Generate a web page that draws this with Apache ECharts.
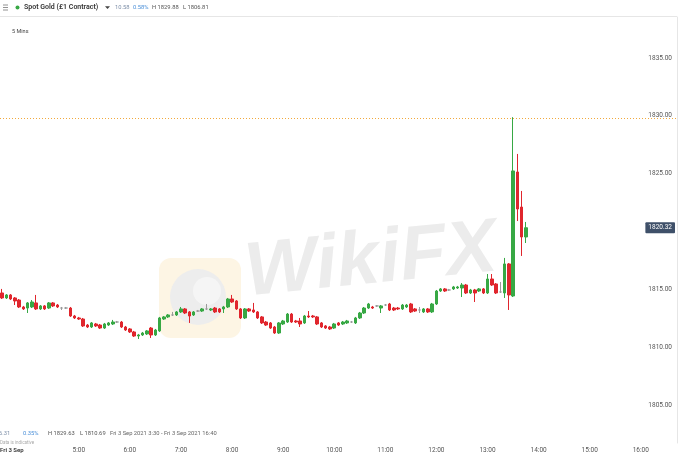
<!DOCTYPE html>
<html><head><meta charset="utf-8">
<script src="https://cdn.jsdelivr.net/npm/echarts@6/dist/echarts.min.js"></script>
<style>html,body{margin:0;padding:0;background:#fff}#c{width:679px;height:454px}</style>
</head><body><div id="c"></div>
<script>
// 5-minute candles, Spot Gold, Fri 3 Sep 2021, starting 3:30
const openP = [1814.68,1814.25,1814.51,1814.25,1814.07,1813.47,1813.38,1813.47,1813.82,1813.30,
1813.56,1813.38,1813.82,1813.64,1813.38,1813.38,1813.38,1812.69,1812.52,1812.43,
1811.91,1811.74,1812.00,1811.91,1811.65,1811.91,1812.00,1812.17,1812.17,1811.74,
1811.57,1811.31,1810.96,1811.05,1811.14,1811.65,1811.05,1811.40,1812.43,1812.61,
1812.78,1812.78,1813.04,1813.30,1813.04,1812.78,1813.12,1813.12,1813.30,1813.21,
1813.38,1813.30,1813.30,1813.47,1814.16,1813.99,1813.30,1812.52,1813.30,1813.21,
1813.04,1812.61,1812.17,1812.09,1811.74,1811.22,1812.00,1812.17,1812.86,1812.26,
1812.26,1812.09,1812.69,1812.69,1812.61,1812.09,1811.83,1811.74,1811.65,1812.09,
1812.00,1812.09,1812.17,1812.09,1812.52,1812.95,1813.38,1813.47,1813.56,1813.38,
1813.64,1813.73,1813.38,1813.38,1813.30,1813.47,1813.73,1813.30,1813.21,1813.04,
1813.30,1813.04,1813.73,1814.85,1815.03,1814.94,1815.03,1815.11,1815.11,1815.37,
1814.68,1814.94,1814.85,1815.03,1814.68,1815.89,1815.46,1814.77,1814.68,1817.19,
1814.42,1825.14,1822.11,1819.52];
const closeP = [1814.25,1814.51,1814.16,1813.99,1813.47,1813.30,1813.82,1813.90,1813.30,1813.56,
1813.30,1813.82,1813.56,1813.47,1813.38,1813.38,1812.69,1812.52,1812.43,1811.83,
1811.74,1812.09,1811.83,1811.65,1812.00,1812.09,1812.17,1812.17,1811.74,1811.48,
1811.31,1810.96,1811.05,1811.22,1811.40,1811.05,1811.48,1812.52,1812.61,1812.78,
1812.78,1813.04,1813.30,1812.95,1812.69,1813.04,1813.12,1813.30,1813.30,1813.30,
1813.04,1813.04,1813.47,1814.16,1813.90,1813.30,1812.52,1813.30,1813.12,1813.04,
1812.52,1812.09,1811.91,1811.65,1811.22,1812.09,1812.26,1812.86,1812.17,1812.17,
1812.00,1812.69,1812.61,1812.61,1812.00,1811.74,1811.65,1811.57,1812.00,1811.91,
1812.17,1812.26,1812.17,1812.52,1812.95,1813.38,1813.73,1813.38,1813.56,1813.56,
1813.64,1813.21,1813.21,1813.30,1813.64,1813.64,1813.04,1813.12,1813.21,1813.30,
1813.04,1813.73,1814.85,1815.03,1814.85,1814.94,1815.20,1815.20,1815.37,1814.68,
1814.94,1814.68,1815.03,1814.68,1815.89,1815.37,1814.68,1814.77,1817.19,1814.51,
1825.23,1821.94,1819.52,1820.32];
const lowP = [1814.16,1814.16,1814.07,1813.64,1813.38,1813.21,1812.95,1813.38,1813.21,1813.21,
1813.21,1813.30,1813.47,1813.38,1813.21,1813.30,1812.61,1812.43,1812.35,1811.74,
1811.65,1811.65,1811.74,1811.57,1811.57,1811.83,1811.91,1812.09,1811.65,1811.40,
1811.22,1810.88,1810.70,1810.96,1811.05,1810.79,1810.96,1811.31,1812.35,1812.52,
1812.69,1812.69,1812.95,1812.86,1812.09,1812.69,1813.04,1813.04,1813.21,1813.12,
1812.95,1812.95,1812.95,1813.38,1813.82,1813.21,1812.43,1812.43,1813.04,1812.95,
1812.43,1812.00,1811.83,1811.57,1811.14,1811.14,1811.91,1812.09,1812.09,1812.09,
1811.74,1812.00,1812.52,1812.52,1811.91,1811.65,1811.57,1811.48,1811.57,1811.83,
1811.91,1812.00,1812.09,1812.00,1812.43,1812.86,1813.30,1813.30,1813.47,1812.95,
1813.56,1813.12,1813.12,1813.21,1813.21,1813.38,1812.95,1813.04,1812.95,1812.95,
1812.95,1812.95,1813.64,1814.77,1814.77,1814.85,1814.94,1815.03,1814.33,1814.59,
1814.59,1813.90,1814.77,1814.59,1814.59,1815.29,1814.59,1814.68,1814.25,1813.21,
1814.33,1820.90,1817.88,1819.00];
const highP = [1815.03,1814.59,1814.59,1814.33,1814.16,1813.56,1813.90,1814.07,1814.51,1813.64,
1813.64,1813.90,1813.90,1813.73,1813.47,1813.47,1813.47,1812.78,1812.61,1812.52,
1812.00,1812.17,1812.09,1812.00,1812.09,1812.17,1812.35,1812.26,1812.26,1811.83,
1811.65,1811.40,1811.14,1811.31,1811.48,1811.74,1811.57,1812.61,1812.69,1812.86,
1813.04,1813.12,1813.47,1813.38,1813.12,1813.12,1813.21,1813.38,1813.73,1813.38,
1813.47,1813.38,1813.56,1814.25,1814.51,1814.07,1813.38,1813.38,1813.38,1813.82,
1813.12,1812.69,1812.26,1812.17,1811.83,1812.17,1812.35,1812.95,1812.95,1812.35,
1812.52,1812.78,1813.12,1812.78,1812.69,1812.17,1811.91,1811.83,1812.09,1812.17,
1812.26,1812.35,1812.26,1812.61,1813.04,1813.47,1813.82,1813.56,1813.64,1813.64,
1813.73,1813.82,1813.47,1813.47,1813.73,1813.73,1813.82,1813.38,1813.47,1813.38,
1813.38,1813.82,1814.94,1815.11,1815.11,1815.03,1815.29,1815.29,1815.54,1815.46,
1815.03,1815.03,1815.11,1815.11,1816.32,1816.32,1815.54,1815.63,1817.71,1817.27,
1829.88,1826.70,1823.50,1820.82];
const yTicks = [1805, 1810, 1815, 1820, 1825, 1830, 1835];
const lastPrice = 1820.32;
const alertLevel = 1829.8;
const yMin = 1801.71, yMax = 1838.54;
// time axis 3:30 .. 16:40 in 5-minute steps
const categories = [];
for (let m = 3 * 60 + 30; m <= 16 * 60 + 40; m += 5) {
  categories.push(Math.floor(m / 60) + ':' + String(m % 60).padStart(2, '0'));
}
const candles = openP.map((o, i) => [o, closeP[i], lowP[i], highP[i]]);

const GREEN = '#37a844', RED = '#e0262d';
const FONT = 'Roboto, "Open Sans", Arial, sans-serif';
const chart = echarts.init(document.getElementById('c'), null, {renderer: 'canvas'});
chart.setOption({
  animation: false,
  backgroundColor: '#ffffff',
  grid: {left: 0, right: 2, top: 17, bottom: 11},
  xAxis: {
    type: 'category', data: categories, boundaryGap: true,
    axisLine: {show: false}, axisTick: {show: false}, splitLine: {show: false},
    axisLabel: {
      interval: (idx, val) => /:00$/.test(val),
      showMinLabel: false,
      fontSize: 6.5, color: '#555', margin: 4, fontFamily: FONT
    }
  },
  yAxis: {
    type: 'value', position: 'right', min: yMin, max: yMax, scale: true,
    axisLine: {show: true, lineStyle: {color: '#e6e6e6', width: 1}},
    axisTick: {show: false}, splitLine: {show: false},
    axisLabel: {
      inside: true, margin: 5, fontSize: 6.5, color: '#555', fontFamily: FONT,
      customValues: yTicks,
      formatter: v => Number(v).toFixed(2)
    }
  },
  series: [{
    type: 'candlestick', data: candles, barWidth: 3,
    itemStyle: {color: GREEN, color0: RED, borderColor: GREEN, borderColor0: RED,
      borderColorDoji: '#9a9a9a', borderWidth: 1},
    markLine: {
      silent: true, symbol: 'none', animation: false,
      label: {show: false},
      lineStyle: {color: '#f2a93b', type: [1, 2], width: 1},
      data: [{yAxis: alertLevel}]
    },
    z: 5
  }]
});

const py = chart.convertToPixel({yAxisIndex: 0}, lastPrice);
const txt = (x, y, text, size, fill, extra) => Object.assign({
  type: 'text', x: x, y: y, silent: true,
  style: Object.assign({text: text, fontSize: size, fill: fill, fontFamily: FONT, verticalAlign: 'middle'}, extra || {})
});
chart.setOption({
  graphic: {elements: [
    // watermark
    {type: 'rect', shape: {x: 159, y: 258, width: 82, height: 80, r: 12}, style: {fill: '#fdf5e4'}, z: 0, silent: true},
    {type: 'circle', shape: {cx: 198, cy: 297, r: 28}, style: {fill: '#ededed'}, z: 0, silent: true},
    {type: 'circle', shape: {cx: 207, cy: 291, r: 14}, style: {fill: '#f5f5f5'}, z: 0, silent: true},
    {type: 'text', x: 371, y: 262, rotation: 0.1, z: 0, silent: true,
      style: {text: 'WikiFX', font: 'italic bold 76px Arial, "Liberation Sans", sans-serif', fill: '#ececec', align: 'center', verticalAlign: 'middle'}},
    // header
    {type: 'line', shape: {x1: 0, y1: 16.5, x2: 677, y2: 16.5}, style: {stroke: '#e6e6e6', lineWidth: 1}, silent: true},
    {type: 'line', shape: {x1: 3, y1: 5, x2: 8, y2: 5}, style: {stroke: '#777', lineWidth: 0.8}, silent: true},
    {type: 'line', shape: {x1: 3, y1: 7.5, x2: 8, y2: 7.5}, style: {stroke: '#777', lineWidth: 0.8}, silent: true},
    {type: 'line', shape: {x1: 3, y1: 10, x2: 8, y2: 10}, style: {stroke: '#777', lineWidth: 0.8}, silent: true},
    {type: 'circle', shape: {cx: 17.5, cy: 7.5, r: 2}, style: {fill: GREEN}, silent: true},
    txt(24, 7.5, 'Spot Gold (£1 Contract)', 7, '#333', {fontWeight: 600}),
    {type: 'polygon', shape: {points: [[105, 6.3], [110, 6.3], [107.5, 9]]}, style: {fill: '#444'}, silent: true},
    txt(115, 7.5, '10.58', 5.8, '#7d8fa8'),
    txt(133, 7.5, '0.58%', 5.8, '#4a8fd8'),
    txt(152, 7.5, 'H 1829.88', 5.8, '#555'),
    txt(183, 7.5, 'L 1806.81', 5.8, '#555'),
    txt(12, 32, '5 Mins', 5.5, '#444'),
    // bottom info
    txt(-1, 433.5, '6.31', 5.8, '#7d8fa8'),
    txt(23, 433.5, '0.35%', 5.8, '#4a8fd8'),
    txt(48, 433.5, 'H 1829.63', 5.8, '#555'),
    txt(80, 433.5, 'L 1810.69', 5.8, '#555'),
    txt(110, 433.5, 'Fri 3 Sep 2021 3:30 - Fri 3 Sep 2021 16:40', 5.8, '#666'),
    txt(0, 442.5, 'Data is indicative', 4.5, '#aaa'),
    Object.assign(txt(0, 450.5, 'Fri 3 Sep', 6, '#333', {fontWeight: 600, backgroundColor: '#fff', padding: [1, 3, 1, 0]}), {z: 100}),
    // last price tag
    {type: 'text', x: 675, y: py, z: 100, silent: true,
      style: {text: lastPrice.toFixed(2), fontSize: 6.5, fill: '#fff', fontFamily: FONT,
        backgroundColor: '#3f5069', borderRadius: 1, padding: [2, 3, 2, 3], align: 'right', verticalAlign: 'middle'}}
  ]}
});
</script></body></html>
